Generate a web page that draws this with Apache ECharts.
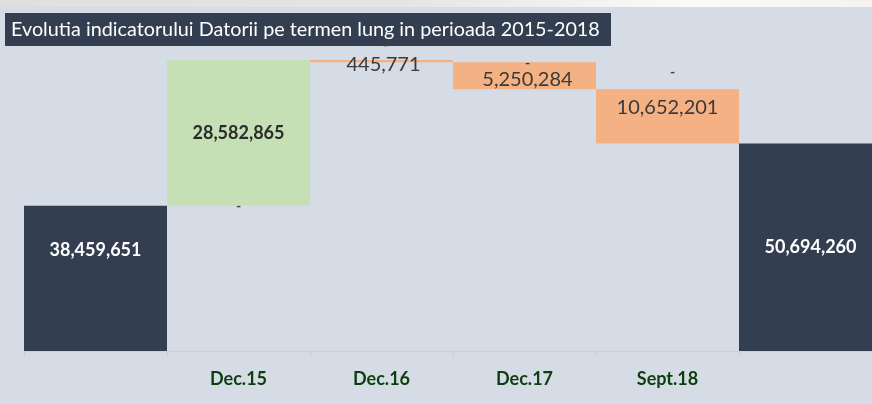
<!DOCTYPE html>
<html>
<head>
<meta charset="utf-8">
<script src="https://cdn.jsdelivr.net/npm/echarts@6/dist/echarts.min.js"></script>
<style>
  html, body { margin: 0; padding: 0; background: #d6dce5; }
  #chart { width: 872px; height: 404px; }
</style>
</head>
<body>
<div id="chart"></div>
<script>
const categories = ['', 'Dec.15', 'Dec.16', 'Dec.17', 'Sept.18', '']
const startValue = 38459651
const changes = [28582865, -445771, -5250284, -10652201]
const endValue = 50694260

const FONT = 'Lato'

// waterfall: invisible base + decrease + increase + totals
const baseData = ['-']
const downData = ['-']
const upData = ['-']
const totalData = [startValue]
let running = startValue
changes.forEach(v => {
  const next = running + v
  baseData.push(Math.min(running, next))
  downData.push(v < 0 ? -v : 0)
  upData.push(v > 0 ? v : 0)
  totalData.push('-')
  running = next
})
baseData.push('-')
downData.push('-')
upData.push('-')
totalData.push(endValue)

const fmt = v => v.toLocaleString('en-US')

const dashLabel = offset => ({
  show: true,
  position: 'inside',
  formatter: '-',
  fontFamily: FONT,
  fontSize: 14,
  fontWeight: 'bold',
  color: '#404040',
  offset
})

// label offsets for the zero entries (Excel puts "-" there)
const upDashOffset = { 2: [4, -15], 3: [3, 1], 4: [5, -17] }
const downValueOffset = { 2: [2, 3], 3: [3, 4], 4: [0, -9] }

const downItems = downData.map((v, i) => {
  if (v === '-') return v
  if (v === 0) return { value: v, label: dashLabel([0, 1]) }
  return { value: v, label: { offset: downValueOffset[i] || [0, 0] } }
})
const upItems = upData.map((v, i) => {
  if (v === '-') return v
  if (v === 0) return { value: v, label: dashLabel(upDashOffset[i] || [0, 0]) }
  return v
})
const totalItems = totalData.map((v, i) => {
  if (v === '-') return v
  if (i === 0) return { value: v, label: { position: 'insideTop', distance: 35 } }
  return v
})

const chart = echarts.init(document.getElementById('chart'))

chart.setOption({
  backgroundColor: '#d6dce5',
  animation: false,
  grid: { left: 24, width: 858, top: 45, bottom: 53, containLabel: false, outerBoundsMode: 'none' },
  xAxis: {
    type: 'category',
    data: categories,
    axisLine: { lineStyle: { color: '#d0d0d0', width: 1 } },
    axisTick: { show: true, length: 6, lineStyle: { color: '#cfcfcf' } },
    axisLabel: {
      interval: 0,
      margin: 19,
      fontFamily: FONT,
      fontSize: 18,
      fontWeight: 'bold',
      color: '#0c3f0c'
    }
  },
  yAxis: {
    type: 'value',
    show: false,
    min: 10000000,
    max: 70000000,
    splitLine: { show: false }
  },
  series: [
    {
      name: 'base',
      type: 'bar',
      stack: 'w',
      barCategoryGap: 0,
      itemStyle: { color: 'transparent' },
      silent: true,
      data: baseData
    },
    {
      name: 'Scadere',
      type: 'bar',
      stack: 'w',
      itemStyle: { color: '#f4b183' },
      label: {
        show: true,
        position: 'inside',
        fontFamily: FONT,
        fontSize: 20,
        color: '#3a3a3a',
        formatter: p => fmt(p.value)
      },
      data: downItems
    },
    {
      name: 'Crestere',
      type: 'bar',
      stack: 'w',
      itemStyle: { color: '#c5e0b4' },
      label: {
        show: true,
        position: 'inside',
        fontFamily: FONT,
        fontSize: 18,
        fontWeight: 'bold',
        color: '#2b2b2b',
        formatter: p => fmt(p.value)
      },
      data: upItems
    },
    {
      name: 'Total',
      type: 'bar',
      stack: 'w',
      itemStyle: { color: '#333f50' },
      label: {
        show: true,
        position: 'inside',
        fontFamily: FONT,
        fontSize: 18,
        fontWeight: 'bold',
        color: '#ffffff',
        formatter: p => fmt(p.value)
      },
      data: totalItems
    }
  ],
  graphic: [
    {
      type: 'rect',
      shape: { x: 0, y: 0, width: 872, height: 7 },
      style: {
        fill: new echarts.graphic.LinearGradient(0, 0, 1, 0, [
          { offset: 0, color: '#dfdfe2' },
          { offset: 0.45, color: '#e6e4e3' },
          { offset: 0.8, color: '#fcfbfa' },
          { offset: 1, color: '#f5f2f0' }
        ])
      },
      silent: true
    },
    {
      type: 'rect',
      shape: { x: 5, y: 13, width: 606, height: 33 },
      style: { fill: '#333f50' },
      z: 100
    },
    {
      type: 'text',
      x: 11,
      y: 30,
      z: 101,
      style: {
        text: 'Evolutia indicatorului Datorii pe termen lung in perioada 2015-2018',
        fontFamily: FONT,
        fontSize: 19.8,
        fill: '#ffffff',
        verticalAlign: 'middle'
      }
    }
  ]
})

window.addEventListener('resize', () => chart.resize())
</script>
</body>
</html>
